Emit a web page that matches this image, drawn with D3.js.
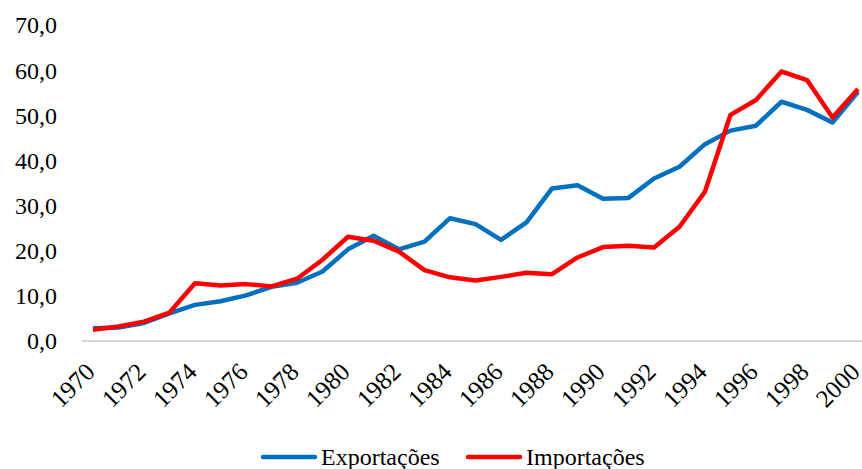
<!DOCTYPE html>
<html>
<head>
<meta charset="utf-8">
<script src="https://cdn.jsdelivr.net/npm/d3@7"></script>
<style>
  body { margin: 0; background: #fff; }
  text { font-family: "Liberation Serif", "Times New Roman", serif; fill: #000; }
</style>
</head>
<body>
<div id="main"></div>
<script>
// data
var years = d3.range(1970, 2001);
var exportacoes = [2.8, 3.0, 4.0, 6.1, 8.0, 8.8, 10.1, 12.0, 12.9, 15.4, 20.3, 23.3, 20.3, 22.0, 27.2, 25.9, 22.4, 26.3, 33.8, 34.5, 31.5, 31.7, 36.0, 38.6, 43.6, 46.6, 47.7, 53.0, 51.2, 48.4, 55.2];
var importacoes = [2.5, 3.2, 4.3, 6.3, 12.8, 12.3, 12.6, 12.1, 13.8, 18.0, 23.1, 22.2, 19.8, 15.7, 14.1, 13.4, 14.2, 15.1, 14.8, 18.5, 20.8, 21.1, 20.7, 25.3, 33.1, 50.1, 53.4, 59.7, 57.8, 49.5, 55.8];
var yTicks = [0, 10, 20, 30, 40, 50, 60, 70];
var xTicks = d3.range(1970, 2001, 2);
var seriesNames = ["Exportações", "Importações"];
var seriesColors = ["#0070C0", "#FF0000"];

var width = 862;
var height = 469;

var svg = d3.select("#main").append("svg")
  .attr("width", width)
  .attr("height", height);

var x = d3.scaleLinear().domain([1970, 2000]).range([93, 858]);
var y = d3.scaleLinear().domain([0, 70]).range([341, 25]);

// y tick labels
svg.append("g").selectAll("text")
  .data(yTicks)
  .enter().append("text")
  .attr("x", 57)
  .attr("y", function(d) { return y(d); })
  .attr("dy", "0.35em")
  .attr("text-anchor", "end")
  .style("font-size", "24px")
  .text(function(d) { return d3.format(".1f")(d).replace(".", ","); });

// baseline
svg.append("line")
  .attr("x1", 82).attr("x2", 862)
  .attr("y1", y(0)).attr("y2", y(0))
  .attr("stroke", "#d9d9d9")
  .attr("stroke-width", 2);

// x tick labels, rotated
svg.append("g").selectAll("text")
  .data(xTicks)
  .enter().append("text")
  .attr("transform", function(d) {
    return "translate(" + (x(d) - 9) + ",361) rotate(-45)";
  })
  .attr("text-anchor", "end")
  .attr("dy", "0.7em")
  .style("font-size", "25px")
  .text(function(d) { return d; });

var line = d3.line()
  .x(function(d, i) { return x(years[i]); })
  .y(function(d) { return y(d); });

[exportacoes, importacoes].forEach(function(s, i) {
  svg.append("path")
    .datum(s)
    .attr("d", line)
    .attr("fill", "none")
    .attr("stroke", seriesColors[i])
    .attr("stroke-width", 4.5)
    .attr("stroke-linejoin", "round");
});

// legend
var legendX = [263, 468];
var leg = svg.append("g").selectAll("g")
  .data(seriesNames)
  .enter().append("g")
  .attr("transform", function(d, i) { return "translate(" + legendX[i] + ",457)"; });

leg.append("line")
  .attr("x1", 0).attr("x2", 52)
  .attr("stroke", function(d, i) { return seriesColors[i]; })
  .attr("stroke-width", 4.5)
  .attr("stroke-linecap", "round");

leg.append("text")
  .attr("x", 58)
  .attr("dy", "0.35em")
  .style("font-size", "24px")
  .text(function(d) { return d; });
</script>
</body>
</html>
